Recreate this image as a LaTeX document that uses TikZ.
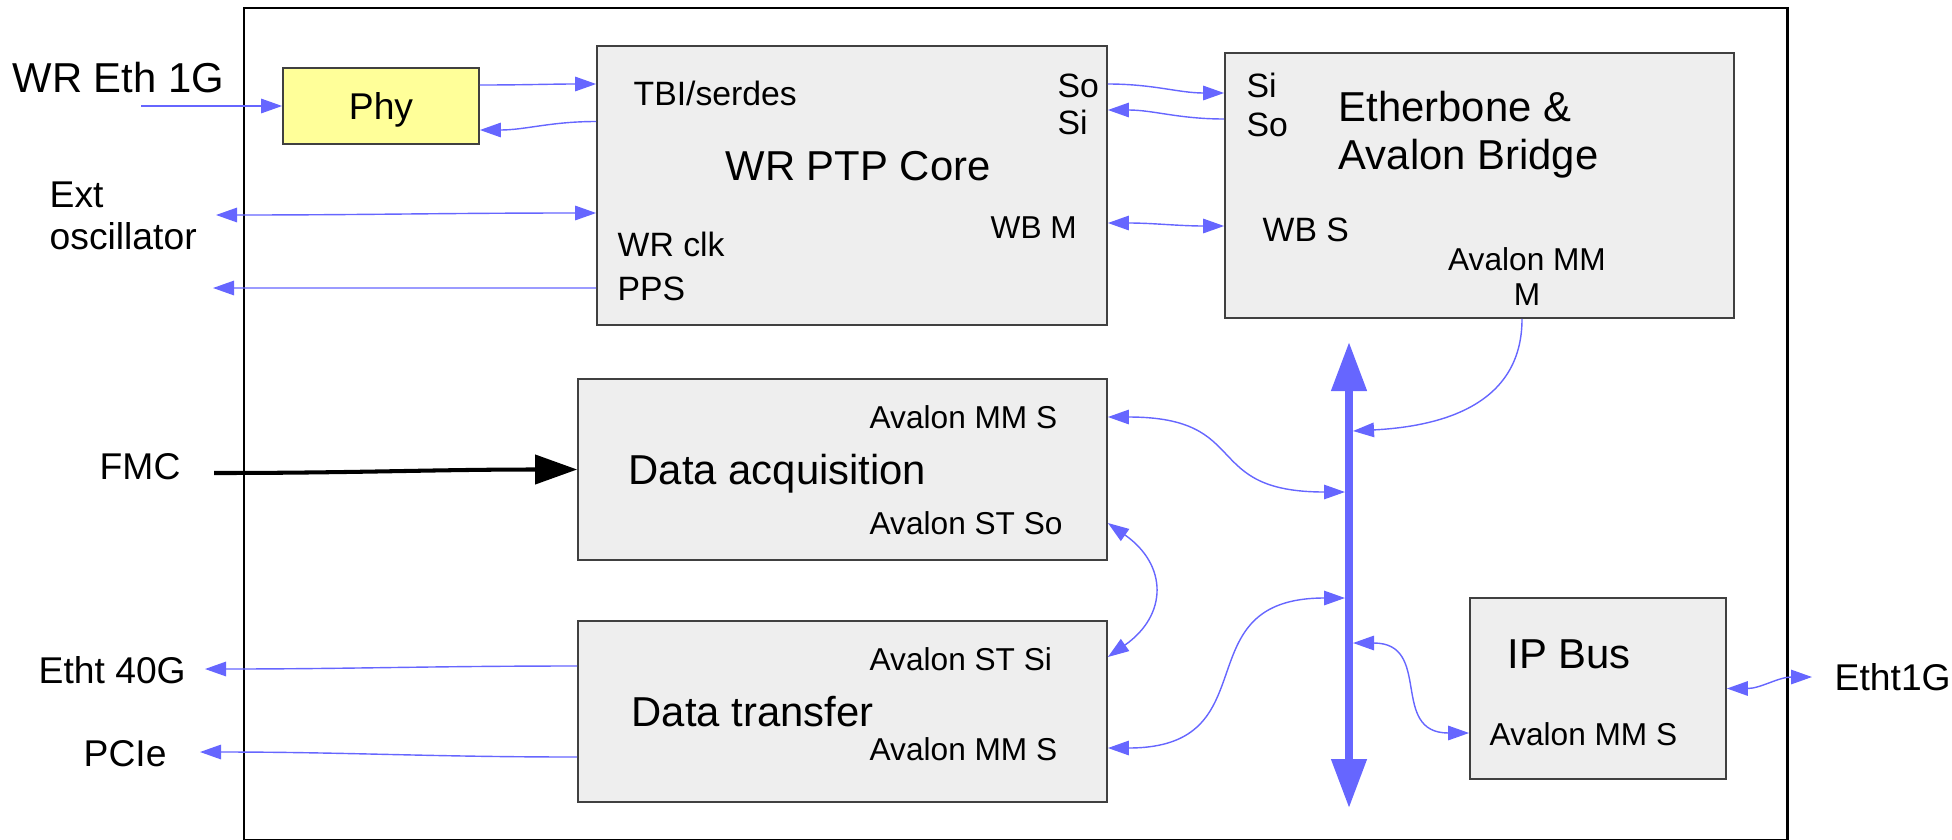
\documentclass[tikz,border=0pt]{standalone}
\usepackage{fontspec}
\setmainfont{Liberation Sans}
\usepackage{tikz}
\usetikzlibrary{arrows.meta}
\definecolor{Wire}{HTML}{6666FF}
\definecolor{Block}{HTML}{EEEEEE}
\definecolor{Chip}{HTML}{FFFF99}
\tikzset{
  wire/.style={-{Triangle[length=2.1mm,width=1.45mm]},line width=0.4pt,draw=Wire},
  wiretwo/.style={{Triangle[length=2.1mm,width=1.45mm]}-{Triangle[length=2.1mm,width=1.45mm]},line width=0.4pt,draw=Wire},
  busline/.style={{Triangle[length=4.9mm,width=3.4mm]}-{Triangle[length=4.9mm,width=3.4mm]},line width=2.2pt,draw=Wire},
  fmcline/.style={-{Triangle[length=4.2mm,width=2.9mm]},line width=1.15pt,draw=black},
  blockbox/.style={draw=black!75,line width=0.5pt,fill=Block,inner sep=0pt},
  bigtext/.style={anchor=base west,inner sep=0pt,font=\fontsize{11.9}{13.7}\selectfont},
  midtext/.style={anchor=base west,inner sep=0pt,font=\fontsize{10.6}{11.95}\selectfont},
  pintext/.style={anchor=base west,inner sep=0pt,font=\fontsize{9.6}{11}\selectfont},
  smalltext/.style={anchor=base west,inner sep=0pt,font=\fontsize{9.0}{9.96}\selectfont},
}
\begin{document}
\begin{tikzpicture}[x=1cm,y=1cm]
    \useasboundingbox (0,0) rectangle (19.52,8.39);
    \draw[line width=0.85pt] (2.44,-0.015) rectangle (17.87,8.31);

    % blocks
    \node[blockbox,fill=Chip,minimum width=1.96cm,minimum height=0.76cm,text depth=0pt,font=\fontsize{10.6}{12}\selectfont] (phy) at (3.81,7.33) {Phy};
    \node[blockbox,minimum width=5.10cm,minimum height=2.79cm] (ptp) at (8.52,6.535) {};
    \node[blockbox,minimum width=5.09cm,minimum height=2.65cm] (eb) at (14.795,6.535) {};
    \node[blockbox,minimum width=5.29cm,minimum height=1.81cm] (da) at (8.425,3.695) {};
    \node[blockbox,minimum width=5.29cm,minimum height=1.81cm] (dt) at (8.425,1.275) {};
    \node[blockbox,minimum width=2.56cm,minimum height=1.81cm] (ip) at (15.98,1.505) {};

    % block texts
    \node[pintext] (tbi) at (6.33,7.34) {TBI/serdes};
    \node[pintext] (ptpso) at (10.57,7.42) {So};
    \node[pintext] (ptpsi) at (10.57,7.05) {Si};
    \node[bigtext] (ptptitle) at (7.25,6.59) {WR PTP Core};
    \node[smalltext] (wbm) at (9.90,6.01) {WB M};
    \node[pintext] (wrclk) at (6.17,5.83) {WR clk};
    \node[pintext] (ppsout) at (6.17,5.39) {PPS};

    \node[pintext] (ebsi) at (12.46,7.42) {Si};
    \node[pintext] (ebso) at (12.46,7.03) {So};
    \node[anchor=west,inner sep=0pt,align=left,font=\fontsize{11.9}{13.66}\selectfont] (ebtitle) at (13.38,7.04) {Etherbone \&\\Avalon Bridge};
    \node[pintext] (wbs) at (12.62,5.98) {WB S};
    \node[inner sep=0pt,align=center,font=\fontsize{9.0}{9.96}\selectfont] (ebmm) at (15.27,5.62) {Avalon MM\\M};

    \node[smalltext] (dammin) at (8.69,4.11) {Avalon MM S};
    \node[bigtext] (datitle) at (6.28,3.55) {Data acquisition};
    \node[smalltext] (dastout) at (8.69,3.05) {Avalon ST So};

    \node[smalltext] (dtstin) at (8.69,1.69) {Avalon ST Si};
    \node[bigtext] (dttitle) at (6.31,1.13) {Data transfer};
    \node[smalltext] (dtmmin) at (8.69,0.79) {Avalon MM S};

    \node[bigtext] (iptitle) at (15.07,1.71) {IP Bus};
    \node[smalltext] (ipmmin) at (14.89,0.94) {Avalon MM S};

    % outside
    \node[bigtext] (wreth) at (0.12,7.47) {WR Eth 1G};
    \node[anchor=west,inner sep=0pt,align=left,font=\fontsize{10.6}{11.95}\selectfont] (osc) at (0.49,6.23) {Ext\\oscillator};
    \node[midtext] (fmc) at (0.99,3.60) {FMC};
    \node[midtext] (etht40) at (0.38,1.56) {Etht 40G};
    \node[midtext] (pcielbl) at (0.83,0.73) {PCIe};
    \node[midtext] (etht1) at (18.34,1.49) {Etht1G};

    \coordinate (ethin) at (1.41,7.33);
    \coordinate (extosc) at (2.16,6.24);
    \coordinate (pps) at (2.13,5.51);
    \coordinate (fmcin) at (2.14,3.66);
    \coordinate (eth40) at (2.05,1.70);
    \coordinate (pcie) at (2.00,0.87);
    \coordinate (eth1g) at (18.12,1.62);

    % bus
    \coordinate (bustop) at (13.49,4.97);
    \coordinate (busbot) at (13.49,0.31);
    \coordinate (busA) at (13.45,3.47);
    \coordinate (busB) at (13.53,4.08);
    \coordinate (busC) at (13.45,2.41);
    \coordinate (busD) at (13.53,1.96);
    \draw[busline] (bustop) -- (busbot);

    % connections
    \draw[wire] (ethin) -- (phy.west);
    \draw[wire] ([yshift=2.1mm]phy.east) to[out=0,in=180] ([yshift=10.15mm]ptp.west);
    \draw[wire] ([yshift=6.4mm]ptp.west) to[out=180,in=0] ([yshift=-2.4mm]phy.east);
    \draw[wiretwo] (extosc) to[out=0,in=180] ([yshift=-2.75mm]ptp.west);
    \draw[wire] ([yshift=-10.25mm]ptp.west) -- (pps);
    \draw[wire] ([yshift=10.15mm]ptp.east) to[out=0,in=180] ([yshift=9.25mm]eb.west);
    \draw[wire] ([yshift=6.65mm]eb.west) to[out=180,in=0] ([yshift=7.55mm]ptp.east);
    \draw[wiretwo] ([yshift=-3.75mm]ptp.east) to[out=0,in=180] ([yshift=-4.05mm]eb.west);
    \draw[wire] ([xshift=4.25mm]eb.south) to[out=-90,in=3,looseness=1.1] (busB);
    \draw[wiretwo] ([yshift=5.25mm]da.east) to[out=0,in=180,looseness=1.5] (busA);
    \draw[wiretwo] ([yshift=-5.35mm]da.east) to[out=-35,in=35,looseness=1.4] ([yshift=5.45mm]dt.east);
    \draw[wiretwo] ([yshift=-3.65mm]dt.east) to[out=0,in=180,looseness=1.5] (busC);
    \draw[wiretwo] (busD) to[out=0,in=180,looseness=1.4] ([yshift=-4.45mm]ip.west);
    \draw[wiretwo] (ip.east) to[out=0,in=180] (eth1g);
    \draw[fmcline] (fmcin) to[out=0,in=180] (da.west);
    \draw[wire] ([yshift=4.55mm]dt.west) to[out=180,in=0] (eth40);
    \draw[wire] ([yshift=-4.55mm]dt.west) to[out=180,in=0] (pcie);
\end{tikzpicture}
\end{document}
